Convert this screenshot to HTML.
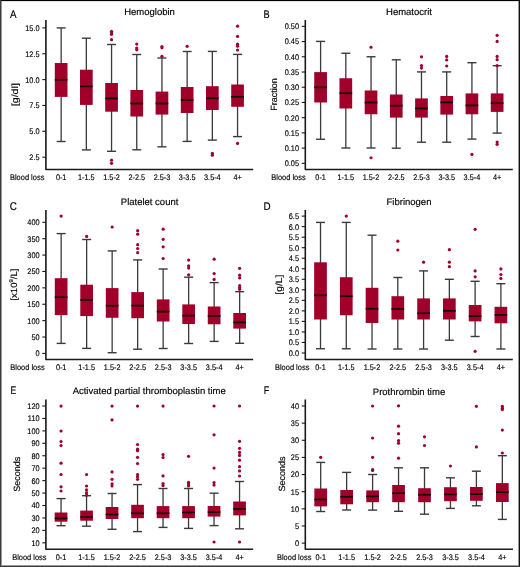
<!DOCTYPE html><html><head><meta charset="utf-8"><style>html,body{margin:0;padding:0;background:#fff;}body{width:520px;height:567px;overflow:hidden;position:relative;font-family:"Liberation Sans",sans-serif;}svg{position:absolute;left:0;top:0;will-change:transform;text-rendering:geometricPrecision;}.b{position:absolute;}</style></head><body>
<svg width="520" height="567" viewBox="0 0 520 567" style="font-family:'Liberation Sans',sans-serif">
<rect x="0" y="0" width="520" height="567" fill="#fff"/>
<g><line x1="42.3" y1="27.9" x2="45.9" y2="27.9" stroke="#1a1a1a" stroke-width="1.1"/><text transform="translate(39.6,30.8) scale(0.91,1)" font-size="8.1" text-anchor="end" fill="#000" stroke="#000" stroke-width="0.15">15.0</text><line x1="42.3" y1="53.75" x2="45.9" y2="53.75" stroke="#1a1a1a" stroke-width="1.1"/><text transform="translate(39.6,56.65) scale(0.91,1)" font-size="8.1" text-anchor="end" fill="#000" stroke="#000" stroke-width="0.15">12.5</text><line x1="42.3" y1="79.6" x2="45.9" y2="79.6" stroke="#1a1a1a" stroke-width="1.1"/><text transform="translate(39.6,82.5) scale(0.91,1)" font-size="8.1" text-anchor="end" fill="#000" stroke="#000" stroke-width="0.15">10.0</text><line x1="42.3" y1="105.45" x2="45.9" y2="105.45" stroke="#1a1a1a" stroke-width="1.1"/><text transform="translate(39.6,108.35) scale(0.91,1)" font-size="8.1" text-anchor="end" fill="#000" stroke="#000" stroke-width="0.15">7.5</text><line x1="42.3" y1="131.3" x2="45.9" y2="131.3" stroke="#1a1a1a" stroke-width="1.1"/><text transform="translate(39.6,134.2) scale(0.91,1)" font-size="8.1" text-anchor="end" fill="#000" stroke="#000" stroke-width="0.15">5.0</text><line x1="42.3" y1="157.15" x2="45.9" y2="157.15" stroke="#1a1a1a" stroke-width="1.1"/><text transform="translate(39.6,160.05) scale(0.91,1)" font-size="8.1" text-anchor="end" fill="#000" stroke="#000" stroke-width="0.15">2.5</text><line x1="61.15" y1="27.9" x2="61.15" y2="141.5" stroke="#3a3a3a" stroke-width="1.3"/><line x1="56.65" y1="27.9" x2="65.65" y2="27.9" stroke="#3a3a3a" stroke-width="1.4"/><line x1="56.65" y1="141.5" x2="65.65" y2="141.5" stroke="#3a3a3a" stroke-width="1.4"/><rect x="54.8" y="63" width="12.7" height="33.9" fill="#a0002a"/><line x1="54.8" y1="79.8" x2="67.5" y2="79.8" stroke="#1a0008" stroke-width="1.7"/><text transform="translate(61.15,180) scale(0.9,1)" font-size="8.1" text-anchor="middle" fill="#000" stroke="#000" stroke-width="0.15">0-1</text><line x1="86.35" y1="38.2" x2="86.35" y2="149.9" stroke="#3a3a3a" stroke-width="1.3"/><line x1="81.85" y1="38.2" x2="90.85" y2="38.2" stroke="#3a3a3a" stroke-width="1.4"/><line x1="81.85" y1="149.9" x2="90.85" y2="149.9" stroke="#3a3a3a" stroke-width="1.4"/><rect x="80" y="69.7" width="12.7" height="35.2" fill="#a0002a"/><line x1="80" y1="86.4" x2="92.7" y2="86.4" stroke="#1a0008" stroke-width="1.7"/><text transform="translate(86.35,180) scale(0.9,1)" font-size="8.1" text-anchor="middle" fill="#000" stroke="#000" stroke-width="0.15">1-1.5</text><line x1="111.55" y1="44.5" x2="111.55" y2="151.3" stroke="#3a3a3a" stroke-width="1.3"/><line x1="107.05" y1="44.5" x2="116.05" y2="44.5" stroke="#3a3a3a" stroke-width="1.4"/><line x1="107.05" y1="151.3" x2="116.05" y2="151.3" stroke="#3a3a3a" stroke-width="1.4"/><rect x="105.2" y="83" width="12.7" height="28.7" fill="#a0002a"/><line x1="105.2" y1="98.4" x2="117.9" y2="98.4" stroke="#1a0008" stroke-width="1.7"/><circle cx="111.55" cy="31.3" r="1.6" fill="#a0002a"/><circle cx="111.55" cy="32.8" r="1.6" fill="#a0002a"/><circle cx="111.55" cy="34.3" r="1.6" fill="#a0002a"/><circle cx="111.55" cy="39.7" r="1.6" fill="#a0002a"/><circle cx="111.55" cy="160.2" r="1.6" fill="#a0002a"/><circle cx="111.55" cy="163.3" r="1.6" fill="#a0002a"/><text transform="translate(111.55,180) scale(0.9,1)" font-size="8.1" text-anchor="middle" fill="#000" stroke="#000" stroke-width="0.15">1.5-2</text><line x1="136.75" y1="54.5" x2="136.75" y2="149.8" stroke="#3a3a3a" stroke-width="1.3"/><line x1="132.25" y1="54.5" x2="141.25" y2="54.5" stroke="#3a3a3a" stroke-width="1.4"/><line x1="132.25" y1="149.8" x2="141.25" y2="149.8" stroke="#3a3a3a" stroke-width="1.4"/><rect x="130.4" y="90" width="12.7" height="26.5" fill="#a0002a"/><line x1="130.4" y1="103.5" x2="143.1" y2="103.5" stroke="#1a0008" stroke-width="1.7"/><circle cx="136.75" cy="44.1" r="1.6" fill="#a0002a"/><circle cx="136.75" cy="48" r="1.6" fill="#a0002a"/><circle cx="136.75" cy="49.8" r="1.6" fill="#a0002a"/><text transform="translate(136.75,180) scale(0.9,1)" font-size="8.1" text-anchor="middle" fill="#000" stroke="#000" stroke-width="0.15">2-2.5</text><line x1="161.95" y1="58" x2="161.95" y2="146.8" stroke="#3a3a3a" stroke-width="1.3"/><line x1="157.45" y1="58" x2="166.45" y2="58" stroke="#3a3a3a" stroke-width="1.4"/><line x1="157.45" y1="146.8" x2="166.45" y2="146.8" stroke="#3a3a3a" stroke-width="1.4"/><rect x="155.6" y="91.6" width="12.7" height="23" fill="#a0002a"/><line x1="155.6" y1="103.5" x2="168.3" y2="103.5" stroke="#1a0008" stroke-width="1.7"/><circle cx="161.95" cy="46.5" r="1.6" fill="#a0002a"/><circle cx="161.95" cy="47.8" r="1.6" fill="#a0002a"/><circle cx="161.95" cy="56.3" r="1.6" fill="#a0002a"/><text transform="translate(161.95,180) scale(0.9,1)" font-size="8.1" text-anchor="middle" fill="#000" stroke="#000" stroke-width="0.15">2.5-3</text><line x1="187.15" y1="51.5" x2="187.15" y2="141.4" stroke="#3a3a3a" stroke-width="1.3"/><line x1="182.65" y1="51.5" x2="191.65" y2="51.5" stroke="#3a3a3a" stroke-width="1.4"/><line x1="182.65" y1="141.4" x2="191.65" y2="141.4" stroke="#3a3a3a" stroke-width="1.4"/><rect x="180.8" y="87" width="12.7" height="26" fill="#a0002a"/><line x1="180.8" y1="100" x2="193.5" y2="100" stroke="#1a0008" stroke-width="1.7"/><circle cx="187.15" cy="46.3" r="1.6" fill="#a0002a"/><text transform="translate(187.15,180) scale(0.9,1)" font-size="8.1" text-anchor="middle" fill="#000" stroke="#000" stroke-width="0.15">3-3.5</text><line x1="212.35" y1="51.4" x2="212.35" y2="140.1" stroke="#3a3a3a" stroke-width="1.3"/><line x1="207.85" y1="51.4" x2="216.85" y2="51.4" stroke="#3a3a3a" stroke-width="1.4"/><line x1="207.85" y1="140.1" x2="216.85" y2="140.1" stroke="#3a3a3a" stroke-width="1.4"/><rect x="206" y="86.2" width="12.7" height="23.8" fill="#a0002a"/><line x1="206" y1="98.3" x2="218.7" y2="98.3" stroke="#1a0008" stroke-width="1.7"/><circle cx="212.35" cy="153.3" r="1.6" fill="#a0002a"/><circle cx="212.35" cy="155.2" r="1.6" fill="#a0002a"/><text transform="translate(212.35,180) scale(0.9,1)" font-size="8.1" text-anchor="middle" fill="#000" stroke="#000" stroke-width="0.15">3.5-4</text><line x1="237.55" y1="54.4" x2="237.55" y2="136.6" stroke="#3a3a3a" stroke-width="1.3"/><line x1="233.05" y1="54.4" x2="242.05" y2="54.4" stroke="#3a3a3a" stroke-width="1.4"/><line x1="233.05" y1="136.6" x2="242.05" y2="136.6" stroke="#3a3a3a" stroke-width="1.4"/><rect x="231.2" y="84.5" width="12.7" height="22.3" fill="#a0002a"/><line x1="231.2" y1="96.8" x2="243.9" y2="96.8" stroke="#1a0008" stroke-width="1.7"/><circle cx="237.55" cy="26.2" r="1.6" fill="#a0002a"/><circle cx="237.55" cy="36.4" r="1.6" fill="#a0002a"/><circle cx="237.55" cy="44.2" r="1.6" fill="#a0002a"/><circle cx="237.55" cy="46.2" r="1.6" fill="#a0002a"/><circle cx="237.55" cy="50" r="1.6" fill="#a0002a"/><circle cx="237.55" cy="143.4" r="1.6" fill="#a0002a"/><text transform="translate(237.55,180) scale(0.9,1)" font-size="8.1" text-anchor="middle" fill="#000" stroke="#000" stroke-width="0.15">4+</text><path d="M45.9 20 V169.5 H253.2" fill="none" stroke="#1a1a1a" stroke-width="1.6" stroke-linejoin="round"/><text transform="translate(10,17.9) scale(0.88,1)" font-size="11.2" fill="#000" stroke="#000" stroke-width="0.15">A</text><text x="149.5" y="14.8" font-size="9.5" text-anchor="middle" fill="#000" stroke="#000" stroke-width="0.15">Hemoglobin</text><text transform="translate(17.9,94.7) rotate(-90) scale(1.19,1)" font-size="9.0" text-anchor="middle" fill="#000" stroke="#000" stroke-width="0.15">[g/dl]</text><text transform="translate(10,180) scale(0.92,1)" font-size="8.1" fill="#000" stroke="#000" stroke-width="0.15">Blood loss</text></g>
<g><line x1="301.7" y1="26.35" x2="305.3" y2="26.35" stroke="#1a1a1a" stroke-width="1.1"/><text transform="translate(299,29.25) scale(0.91,1)" font-size="8.1" text-anchor="end" fill="#000" stroke="#000" stroke-width="0.15">0.50</text><line x1="301.7" y1="41.57" x2="305.3" y2="41.57" stroke="#1a1a1a" stroke-width="1.1"/><text transform="translate(299,44.47) scale(0.91,1)" font-size="8.1" text-anchor="end" fill="#000" stroke="#000" stroke-width="0.15">0.45</text><line x1="301.7" y1="56.79" x2="305.3" y2="56.79" stroke="#1a1a1a" stroke-width="1.1"/><text transform="translate(299,59.69) scale(0.91,1)" font-size="8.1" text-anchor="end" fill="#000" stroke="#000" stroke-width="0.15">0.40</text><line x1="301.7" y1="72.01" x2="305.3" y2="72.01" stroke="#1a1a1a" stroke-width="1.1"/><text transform="translate(299,74.91) scale(0.91,1)" font-size="8.1" text-anchor="end" fill="#000" stroke="#000" stroke-width="0.15">0.35</text><line x1="301.7" y1="87.23" x2="305.3" y2="87.23" stroke="#1a1a1a" stroke-width="1.1"/><text transform="translate(299,90.13) scale(0.91,1)" font-size="8.1" text-anchor="end" fill="#000" stroke="#000" stroke-width="0.15">0.30</text><line x1="301.7" y1="102.45" x2="305.3" y2="102.45" stroke="#1a1a1a" stroke-width="1.1"/><text transform="translate(299,105.35) scale(0.91,1)" font-size="8.1" text-anchor="end" fill="#000" stroke="#000" stroke-width="0.15">0.25</text><line x1="301.7" y1="117.67" x2="305.3" y2="117.67" stroke="#1a1a1a" stroke-width="1.1"/><text transform="translate(299,120.57) scale(0.91,1)" font-size="8.1" text-anchor="end" fill="#000" stroke="#000" stroke-width="0.15">0.20</text><line x1="301.7" y1="132.89" x2="305.3" y2="132.89" stroke="#1a1a1a" stroke-width="1.1"/><text transform="translate(299,135.79) scale(0.91,1)" font-size="8.1" text-anchor="end" fill="#000" stroke="#000" stroke-width="0.15">0.15</text><line x1="301.7" y1="148.11" x2="305.3" y2="148.11" stroke="#1a1a1a" stroke-width="1.1"/><text transform="translate(299,151.01) scale(0.91,1)" font-size="8.1" text-anchor="end" fill="#000" stroke="#000" stroke-width="0.15">0.10</text><line x1="301.7" y1="163.33" x2="305.3" y2="163.33" stroke="#1a1a1a" stroke-width="1.1"/><text transform="translate(299,166.23) scale(0.91,1)" font-size="8.1" text-anchor="end" fill="#000" stroke="#000" stroke-width="0.15">0.05</text><line x1="320.6" y1="41.4" x2="320.6" y2="139.25" stroke="#3a3a3a" stroke-width="1.3"/><line x1="316.1" y1="41.4" x2="325.1" y2="41.4" stroke="#3a3a3a" stroke-width="1.4"/><line x1="316.1" y1="139.25" x2="325.1" y2="139.25" stroke="#3a3a3a" stroke-width="1.4"/><rect x="314.25" y="72.1" width="12.7" height="30.4" fill="#a0002a"/><line x1="314.25" y1="87.3" x2="326.95" y2="87.3" stroke="#1a0008" stroke-width="1.7"/><text transform="translate(320.6,180) scale(0.9,1)" font-size="8.1" text-anchor="middle" fill="#000" stroke="#000" stroke-width="0.15">0-1</text><line x1="345.82" y1="53.25" x2="345.82" y2="148" stroke="#3a3a3a" stroke-width="1.3"/><line x1="341.32" y1="53.25" x2="350.32" y2="53.25" stroke="#3a3a3a" stroke-width="1.4"/><line x1="341.32" y1="148" x2="350.32" y2="148" stroke="#3a3a3a" stroke-width="1.4"/><rect x="339.47" y="78.25" width="12.7" height="30.25" fill="#a0002a"/><line x1="339.47" y1="93.25" x2="352.17" y2="93.25" stroke="#1a0008" stroke-width="1.7"/><text transform="translate(345.82,180) scale(0.9,1)" font-size="8.1" text-anchor="middle" fill="#000" stroke="#000" stroke-width="0.15">1-1.5</text><line x1="371.04" y1="56.75" x2="371.04" y2="148" stroke="#3a3a3a" stroke-width="1.3"/><line x1="366.54" y1="56.75" x2="375.54" y2="56.75" stroke="#3a3a3a" stroke-width="1.4"/><line x1="366.54" y1="148" x2="375.54" y2="148" stroke="#3a3a3a" stroke-width="1.4"/><rect x="364.69" y="90.5" width="12.7" height="23.75" fill="#a0002a"/><line x1="364.69" y1="102.5" x2="377.39" y2="102.5" stroke="#1a0008" stroke-width="1.7"/><circle cx="371.04" cy="47.25" r="1.6" fill="#a0002a"/><circle cx="371.04" cy="157.75" r="1.6" fill="#a0002a"/><text transform="translate(371.04,180) scale(0.9,1)" font-size="8.1" text-anchor="middle" fill="#000" stroke="#000" stroke-width="0.15">1.5-2</text><line x1="396.26" y1="59.8" x2="396.26" y2="148.2" stroke="#3a3a3a" stroke-width="1.3"/><line x1="391.76" y1="59.8" x2="400.76" y2="59.8" stroke="#3a3a3a" stroke-width="1.4"/><line x1="391.76" y1="148.2" x2="400.76" y2="148.2" stroke="#3a3a3a" stroke-width="1.4"/><rect x="389.91" y="94.5" width="12.7" height="23.1" fill="#a0002a"/><line x1="389.91" y1="105.7" x2="402.61" y2="105.7" stroke="#1a0008" stroke-width="1.7"/><text transform="translate(396.26,180) scale(0.9,1)" font-size="8.1" text-anchor="middle" fill="#000" stroke="#000" stroke-width="0.15">2-2.5</text><line x1="421.48" y1="71.9" x2="421.48" y2="142.2" stroke="#3a3a3a" stroke-width="1.3"/><line x1="416.98" y1="71.9" x2="425.98" y2="71.9" stroke="#3a3a3a" stroke-width="1.4"/><line x1="416.98" y1="142.2" x2="425.98" y2="142.2" stroke="#3a3a3a" stroke-width="1.4"/><rect x="415.13" y="98.4" width="12.7" height="19.2" fill="#a0002a"/><line x1="415.13" y1="108.5" x2="427.83" y2="108.5" stroke="#1a0008" stroke-width="1.7"/><circle cx="421.48" cy="56.8" r="1.6" fill="#a0002a"/><circle cx="421.48" cy="65.6" r="1.6" fill="#a0002a"/><circle cx="421.48" cy="68.1" r="1.6" fill="#a0002a"/><text transform="translate(421.48,180) scale(0.9,1)" font-size="8.1" text-anchor="middle" fill="#000" stroke="#000" stroke-width="0.15">2.5-3</text><line x1="446.7" y1="71.9" x2="446.7" y2="142.2" stroke="#3a3a3a" stroke-width="1.3"/><line x1="442.2" y1="71.9" x2="451.2" y2="71.9" stroke="#3a3a3a" stroke-width="1.4"/><line x1="442.2" y1="142.2" x2="451.2" y2="142.2" stroke="#3a3a3a" stroke-width="1.4"/><rect x="440.35" y="96" width="12.7" height="18.6" fill="#a0002a"/><line x1="440.35" y1="102.4" x2="453.05" y2="102.4" stroke="#1a0008" stroke-width="1.7"/><circle cx="446.7" cy="56.4" r="1.6" fill="#a0002a"/><circle cx="446.7" cy="59.9" r="1.6" fill="#a0002a"/><circle cx="446.7" cy="66" r="1.6" fill="#a0002a"/><text transform="translate(446.7,180) scale(0.9,1)" font-size="8.1" text-anchor="middle" fill="#000" stroke="#000" stroke-width="0.15">3-3.5</text><line x1="471.92" y1="62.7" x2="471.92" y2="139.1" stroke="#3a3a3a" stroke-width="1.3"/><line x1="467.42" y1="62.7" x2="476.42" y2="62.7" stroke="#3a3a3a" stroke-width="1.4"/><line x1="467.42" y1="139.1" x2="476.42" y2="139.1" stroke="#3a3a3a" stroke-width="1.4"/><rect x="465.57" y="93.4" width="12.7" height="20.9" fill="#a0002a"/><line x1="465.57" y1="105.4" x2="478.27" y2="105.4" stroke="#1a0008" stroke-width="1.7"/><circle cx="471.92" cy="154.4" r="1.6" fill="#a0002a"/><text transform="translate(471.92,180) scale(0.9,1)" font-size="8.1" text-anchor="middle" fill="#000" stroke="#000" stroke-width="0.15">3.5-4</text><line x1="497.14" y1="65.7" x2="497.14" y2="133.1" stroke="#3a3a3a" stroke-width="1.3"/><line x1="492.64" y1="65.7" x2="501.64" y2="65.7" stroke="#3a3a3a" stroke-width="1.4"/><line x1="492.64" y1="133.1" x2="501.64" y2="133.1" stroke="#3a3a3a" stroke-width="1.4"/><rect x="490.79" y="93.4" width="12.7" height="18.5" fill="#a0002a"/><line x1="490.79" y1="103.2" x2="503.49" y2="103.2" stroke="#1a0008" stroke-width="1.7"/><circle cx="497.14" cy="35.3" r="1.6" fill="#a0002a"/><circle cx="497.14" cy="41.4" r="1.6" fill="#a0002a"/><circle cx="497.14" cy="56.4" r="1.6" fill="#a0002a"/><circle cx="497.14" cy="59.7" r="1.6" fill="#a0002a"/><circle cx="497.14" cy="65.7" r="1.6" fill="#a0002a"/><circle cx="497.14" cy="142" r="1.6" fill="#a0002a"/><circle cx="497.14" cy="144.3" r="1.6" fill="#a0002a"/><text transform="translate(497.14,180) scale(0.9,1)" font-size="8.1" text-anchor="middle" fill="#000" stroke="#000" stroke-width="0.15">4+</text><path d="M305.3 20 V169.5 H512.8" fill="none" stroke="#1a1a1a" stroke-width="1.6" stroke-linejoin="round"/><text transform="translate(263.6,17.9) scale(0.82,1)" font-size="11.2" fill="#000" stroke="#000" stroke-width="0.15">B</text><text x="409" y="14.8" font-size="9.5" text-anchor="middle" fill="#000" stroke="#000" stroke-width="0.15">Hematocrit</text><text transform="translate(277.4,94.6) rotate(-90) scale(1.0,1)" font-size="9.0" text-anchor="middle" fill="#000" stroke="#000" stroke-width="0.15">Fraction</text><text transform="translate(271.3,180) scale(0.92,1)" font-size="8.1" fill="#000" stroke="#000" stroke-width="0.15">Blood loss</text></g>
<g><line x1="42.3" y1="222.3" x2="45.9" y2="222.3" stroke="#1a1a1a" stroke-width="1.1"/><text transform="translate(39.6,225.2) scale(0.91,1)" font-size="8.1" text-anchor="end" fill="#000" stroke="#000" stroke-width="0.15">400</text><line x1="42.3" y1="238.69" x2="45.9" y2="238.69" stroke="#1a1a1a" stroke-width="1.1"/><text transform="translate(39.6,241.59) scale(0.91,1)" font-size="8.1" text-anchor="end" fill="#000" stroke="#000" stroke-width="0.15">350</text><line x1="42.3" y1="255.08" x2="45.9" y2="255.08" stroke="#1a1a1a" stroke-width="1.1"/><text transform="translate(39.6,257.98) scale(0.91,1)" font-size="8.1" text-anchor="end" fill="#000" stroke="#000" stroke-width="0.15">300</text><line x1="42.3" y1="271.47" x2="45.9" y2="271.47" stroke="#1a1a1a" stroke-width="1.1"/><text transform="translate(39.6,274.37) scale(0.91,1)" font-size="8.1" text-anchor="end" fill="#000" stroke="#000" stroke-width="0.15">250</text><line x1="42.3" y1="287.86" x2="45.9" y2="287.86" stroke="#1a1a1a" stroke-width="1.1"/><text transform="translate(39.6,290.76) scale(0.91,1)" font-size="8.1" text-anchor="end" fill="#000" stroke="#000" stroke-width="0.15">200</text><line x1="42.3" y1="304.25" x2="45.9" y2="304.25" stroke="#1a1a1a" stroke-width="1.1"/><text transform="translate(39.6,307.15) scale(0.91,1)" font-size="8.1" text-anchor="end" fill="#000" stroke="#000" stroke-width="0.15">150</text><line x1="42.3" y1="320.64" x2="45.9" y2="320.64" stroke="#1a1a1a" stroke-width="1.1"/><text transform="translate(39.6,323.54) scale(0.91,1)" font-size="8.1" text-anchor="end" fill="#000" stroke="#000" stroke-width="0.15">100</text><line x1="42.3" y1="337.03" x2="45.9" y2="337.03" stroke="#1a1a1a" stroke-width="1.1"/><text transform="translate(39.6,339.93) scale(0.91,1)" font-size="8.1" text-anchor="end" fill="#000" stroke="#000" stroke-width="0.15">50</text><line x1="42.3" y1="353.42" x2="45.9" y2="353.42" stroke="#1a1a1a" stroke-width="1.1"/><text transform="translate(39.6,356.32) scale(0.91,1)" font-size="8.1" text-anchor="end" fill="#000" stroke="#000" stroke-width="0.15">0</text><line x1="61.15" y1="233.6" x2="61.15" y2="343.4" stroke="#3a3a3a" stroke-width="1.3"/><line x1="56.65" y1="233.6" x2="65.65" y2="233.6" stroke="#3a3a3a" stroke-width="1.4"/><line x1="56.65" y1="343.4" x2="65.65" y2="343.4" stroke="#3a3a3a" stroke-width="1.4"/><rect x="54.8" y="278.2" width="12.7" height="36.9" fill="#a0002a"/><line x1="54.8" y1="297.2" x2="67.5" y2="297.2" stroke="#1a0008" stroke-width="1.7"/><circle cx="61.15" cy="216.1" r="1.6" fill="#a0002a"/><text transform="translate(61.15,369.8) scale(0.9,1)" font-size="8.1" text-anchor="middle" fill="#000" stroke="#000" stroke-width="0.15">0-1</text><line x1="86.65" y1="239.5" x2="86.65" y2="348.4" stroke="#3a3a3a" stroke-width="1.3"/><line x1="82.15" y1="239.5" x2="91.15" y2="239.5" stroke="#3a3a3a" stroke-width="1.4"/><line x1="82.15" y1="348.4" x2="91.15" y2="348.4" stroke="#3a3a3a" stroke-width="1.4"/><rect x="80.3" y="284.7" width="12.7" height="31.4" fill="#a0002a"/><line x1="80.3" y1="299.9" x2="93" y2="299.9" stroke="#1a0008" stroke-width="1.7"/><circle cx="86.65" cy="236.4" r="1.6" fill="#a0002a"/><text transform="translate(86.65,369.8) scale(0.9,1)" font-size="8.1" text-anchor="middle" fill="#000" stroke="#000" stroke-width="0.15">1-1.5</text><line x1="112.15" y1="250.9" x2="112.15" y2="352.7" stroke="#3a3a3a" stroke-width="1.3"/><line x1="107.65" y1="250.9" x2="116.65" y2="250.9" stroke="#3a3a3a" stroke-width="1.4"/><line x1="107.65" y1="352.7" x2="116.65" y2="352.7" stroke="#3a3a3a" stroke-width="1.4"/><rect x="105.8" y="288.1" width="12.7" height="29.7" fill="#a0002a"/><line x1="105.8" y1="305.7" x2="118.5" y2="305.7" stroke="#1a0008" stroke-width="1.7"/><circle cx="112.15" cy="227" r="1.6" fill="#a0002a"/><text transform="translate(112.15,369.8) scale(0.9,1)" font-size="8.1" text-anchor="middle" fill="#000" stroke="#000" stroke-width="0.15">1.5-2</text><line x1="137.65" y1="259.9" x2="137.65" y2="349.2" stroke="#3a3a3a" stroke-width="1.3"/><line x1="133.15" y1="259.9" x2="142.15" y2="259.9" stroke="#3a3a3a" stroke-width="1.4"/><line x1="133.15" y1="349.2" x2="142.15" y2="349.2" stroke="#3a3a3a" stroke-width="1.4"/><rect x="131.3" y="292.1" width="12.7" height="26.1" fill="#a0002a"/><line x1="131.3" y1="305.6" x2="144" y2="305.6" stroke="#1a0008" stroke-width="1.7"/><circle cx="137.65" cy="230.7" r="1.6" fill="#a0002a"/><circle cx="137.65" cy="234.2" r="1.6" fill="#a0002a"/><circle cx="137.65" cy="244.7" r="1.6" fill="#a0002a"/><circle cx="137.65" cy="248.5" r="1.6" fill="#a0002a"/><circle cx="137.65" cy="252.7" r="1.6" fill="#a0002a"/><text transform="translate(137.65,369.8) scale(0.9,1)" font-size="8.1" text-anchor="middle" fill="#000" stroke="#000" stroke-width="0.15">2-2.5</text><line x1="163.15" y1="269" x2="163.15" y2="348.5" stroke="#3a3a3a" stroke-width="1.3"/><line x1="158.65" y1="269" x2="167.65" y2="269" stroke="#3a3a3a" stroke-width="1.4"/><line x1="158.65" y1="348.5" x2="167.65" y2="348.5" stroke="#3a3a3a" stroke-width="1.4"/><rect x="156.8" y="299.4" width="12.7" height="22.1" fill="#a0002a"/><line x1="156.8" y1="311.6" x2="169.5" y2="311.6" stroke="#1a0008" stroke-width="1.7"/><circle cx="163.15" cy="229.2" r="1.6" fill="#a0002a"/><circle cx="163.15" cy="239.3" r="1.6" fill="#a0002a"/><circle cx="163.15" cy="246.8" r="1.6" fill="#a0002a"/><circle cx="163.15" cy="258.5" r="1.6" fill="#a0002a"/><text transform="translate(163.15,369.8) scale(0.9,1)" font-size="8.1" text-anchor="middle" fill="#000" stroke="#000" stroke-width="0.15">2.5-3</text><line x1="188.65" y1="277.2" x2="188.65" y2="343.5" stroke="#3a3a3a" stroke-width="1.3"/><line x1="184.15" y1="277.2" x2="193.15" y2="277.2" stroke="#3a3a3a" stroke-width="1.4"/><line x1="184.15" y1="343.5" x2="193.15" y2="343.5" stroke="#3a3a3a" stroke-width="1.4"/><rect x="182.3" y="304.4" width="12.7" height="19.6" fill="#a0002a"/><line x1="182.3" y1="315.6" x2="195" y2="315.6" stroke="#1a0008" stroke-width="1.7"/><circle cx="188.65" cy="260.1" r="1.6" fill="#a0002a"/><circle cx="188.65" cy="265.8" r="1.6" fill="#a0002a"/><circle cx="188.65" cy="268.1" r="1.6" fill="#a0002a"/><circle cx="188.65" cy="274.8" r="1.6" fill="#a0002a"/><text transform="translate(188.65,369.8) scale(0.9,1)" font-size="8.1" text-anchor="middle" fill="#000" stroke="#000" stroke-width="0.15">3-3.5</text><line x1="214.15" y1="282.6" x2="214.15" y2="341.4" stroke="#3a3a3a" stroke-width="1.3"/><line x1="209.65" y1="282.6" x2="218.65" y2="282.6" stroke="#3a3a3a" stroke-width="1.4"/><line x1="209.65" y1="341.4" x2="218.65" y2="341.4" stroke="#3a3a3a" stroke-width="1.4"/><rect x="207.8" y="306.5" width="12.7" height="17.8" fill="#a0002a"/><line x1="207.8" y1="316" x2="220.5" y2="316" stroke="#1a0008" stroke-width="1.7"/><circle cx="214.15" cy="259.2" r="1.6" fill="#a0002a"/><circle cx="214.15" cy="273.6" r="1.6" fill="#a0002a"/><circle cx="214.15" cy="279.4" r="1.6" fill="#a0002a"/><text transform="translate(214.15,369.8) scale(0.9,1)" font-size="8.1" text-anchor="middle" fill="#000" stroke="#000" stroke-width="0.15">3.5-4</text><line x1="239.65" y1="291.7" x2="239.65" y2="343.3" stroke="#3a3a3a" stroke-width="1.3"/><line x1="235.15" y1="291.7" x2="244.15" y2="291.7" stroke="#3a3a3a" stroke-width="1.4"/><line x1="235.15" y1="343.3" x2="244.15" y2="343.3" stroke="#3a3a3a" stroke-width="1.4"/><rect x="233.3" y="313" width="12.7" height="15.6" fill="#a0002a"/><line x1="233.3" y1="322.4" x2="246" y2="322.4" stroke="#1a0008" stroke-width="1.7"/><circle cx="239.65" cy="268.3" r="1.6" fill="#a0002a"/><circle cx="239.65" cy="275.2" r="1.6" fill="#a0002a"/><circle cx="239.65" cy="277.9" r="1.6" fill="#a0002a"/><circle cx="239.65" cy="285.6" r="1.6" fill="#a0002a"/><circle cx="239.65" cy="287.6" r="1.6" fill="#a0002a"/><circle cx="239.65" cy="289.3" r="1.6" fill="#a0002a"/><text transform="translate(239.65,369.8) scale(0.9,1)" font-size="8.1" text-anchor="middle" fill="#000" stroke="#000" stroke-width="0.15">4+</text><path d="M45.9 210 V359.5 H253.2" fill="none" stroke="#1a1a1a" stroke-width="1.6" stroke-linejoin="round"/><text transform="translate(9.8,210.2) scale(0.88,1)" font-size="11.2" fill="#000" stroke="#000" stroke-width="0.15">C</text><text x="149.6" y="204.6" font-size="9.5" text-anchor="middle" fill="#000" stroke="#000" stroke-width="0.15">Platelet count</text><text transform="translate(17.4,284.6) rotate(-90) scale(1.06,1)" font-size="9.0" text-anchor="middle" fill="#000" stroke="#000" stroke-width="0.15">[x10<tspan font-size="5.6" dy="-4.6">9</tspan><tspan dy="4.6">/L]</tspan></text><text transform="translate(10.3,369.8) scale(0.92,1)" font-size="8.1" fill="#000" stroke="#000" stroke-width="0.15">Blood loss</text></g>
<g><line x1="301.7" y1="216.1" x2="305.3" y2="216.1" stroke="#1a1a1a" stroke-width="1.1"/><text transform="translate(299,219) scale(0.91,1)" font-size="8.1" text-anchor="end" fill="#000" stroke="#000" stroke-width="0.15">6.5</text><line x1="301.7" y1="226.63" x2="305.3" y2="226.63" stroke="#1a1a1a" stroke-width="1.1"/><text transform="translate(299,229.53) scale(0.91,1)" font-size="8.1" text-anchor="end" fill="#000" stroke="#000" stroke-width="0.15">6.0</text><line x1="301.7" y1="237.16" x2="305.3" y2="237.16" stroke="#1a1a1a" stroke-width="1.1"/><text transform="translate(299,240.06) scale(0.91,1)" font-size="8.1" text-anchor="end" fill="#000" stroke="#000" stroke-width="0.15">5.5</text><line x1="301.7" y1="247.69" x2="305.3" y2="247.69" stroke="#1a1a1a" stroke-width="1.1"/><text transform="translate(299,250.59) scale(0.91,1)" font-size="8.1" text-anchor="end" fill="#000" stroke="#000" stroke-width="0.15">5.0</text><line x1="301.7" y1="258.22" x2="305.3" y2="258.22" stroke="#1a1a1a" stroke-width="1.1"/><text transform="translate(299,261.12) scale(0.91,1)" font-size="8.1" text-anchor="end" fill="#000" stroke="#000" stroke-width="0.15">4.5</text><line x1="301.7" y1="268.75" x2="305.3" y2="268.75" stroke="#1a1a1a" stroke-width="1.1"/><text transform="translate(299,271.65) scale(0.91,1)" font-size="8.1" text-anchor="end" fill="#000" stroke="#000" stroke-width="0.15">4.0</text><line x1="301.7" y1="279.28" x2="305.3" y2="279.28" stroke="#1a1a1a" stroke-width="1.1"/><text transform="translate(299,282.18) scale(0.91,1)" font-size="8.1" text-anchor="end" fill="#000" stroke="#000" stroke-width="0.15">3.5</text><line x1="301.7" y1="289.81" x2="305.3" y2="289.81" stroke="#1a1a1a" stroke-width="1.1"/><text transform="translate(299,292.71) scale(0.91,1)" font-size="8.1" text-anchor="end" fill="#000" stroke="#000" stroke-width="0.15">3.0</text><line x1="301.7" y1="300.34" x2="305.3" y2="300.34" stroke="#1a1a1a" stroke-width="1.1"/><text transform="translate(299,303.24) scale(0.91,1)" font-size="8.1" text-anchor="end" fill="#000" stroke="#000" stroke-width="0.15">2.5</text><line x1="301.7" y1="310.87" x2="305.3" y2="310.87" stroke="#1a1a1a" stroke-width="1.1"/><text transform="translate(299,313.77) scale(0.91,1)" font-size="8.1" text-anchor="end" fill="#000" stroke="#000" stroke-width="0.15">2.0</text><line x1="301.7" y1="321.4" x2="305.3" y2="321.4" stroke="#1a1a1a" stroke-width="1.1"/><text transform="translate(299,324.3) scale(0.91,1)" font-size="8.1" text-anchor="end" fill="#000" stroke="#000" stroke-width="0.15">1.5</text><line x1="301.7" y1="331.93" x2="305.3" y2="331.93" stroke="#1a1a1a" stroke-width="1.1"/><text transform="translate(299,334.83) scale(0.91,1)" font-size="8.1" text-anchor="end" fill="#000" stroke="#000" stroke-width="0.15">1.0</text><line x1="301.7" y1="342.46" x2="305.3" y2="342.46" stroke="#1a1a1a" stroke-width="1.1"/><text transform="translate(299,345.36) scale(0.91,1)" font-size="8.1" text-anchor="end" fill="#000" stroke="#000" stroke-width="0.15">0.5</text><line x1="301.7" y1="352.99" x2="305.3" y2="352.99" stroke="#1a1a1a" stroke-width="1.1"/><text transform="translate(299,355.89) scale(0.91,1)" font-size="8.1" text-anchor="end" fill="#000" stroke="#000" stroke-width="0.15">0.0</text><line x1="320.5" y1="222.4" x2="320.5" y2="348.75" stroke="#3a3a3a" stroke-width="1.3"/><line x1="316" y1="222.4" x2="325" y2="222.4" stroke="#3a3a3a" stroke-width="1.4"/><line x1="316" y1="348.75" x2="325" y2="348.75" stroke="#3a3a3a" stroke-width="1.4"/><rect x="314.15" y="262.3" width="12.7" height="57.2" fill="#a0002a"/><line x1="314.15" y1="295.25" x2="326.85" y2="295.25" stroke="#1a0008" stroke-width="1.7"/><text transform="translate(320.5,369.8) scale(0.9,1)" font-size="8.1" text-anchor="middle" fill="#000" stroke="#000" stroke-width="0.15">0-1</text><line x1="346.27" y1="222.4" x2="346.27" y2="348.75" stroke="#3a3a3a" stroke-width="1.3"/><line x1="341.77" y1="222.4" x2="350.77" y2="222.4" stroke="#3a3a3a" stroke-width="1.4"/><line x1="341.77" y1="348.75" x2="350.77" y2="348.75" stroke="#3a3a3a" stroke-width="1.4"/><rect x="339.92" y="277.2" width="12.7" height="38.05" fill="#a0002a"/><line x1="339.92" y1="296.25" x2="352.62" y2="296.25" stroke="#1a0008" stroke-width="1.7"/><circle cx="346.27" cy="216.1" r="1.6" fill="#a0002a"/><text transform="translate(346.27,369.8) scale(0.9,1)" font-size="8.1" text-anchor="middle" fill="#000" stroke="#000" stroke-width="0.15">1-1.5</text><line x1="372.04" y1="235.2" x2="372.04" y2="349" stroke="#3a3a3a" stroke-width="1.3"/><line x1="367.54" y1="235.2" x2="376.54" y2="235.2" stroke="#3a3a3a" stroke-width="1.4"/><line x1="367.54" y1="349" x2="376.54" y2="349" stroke="#3a3a3a" stroke-width="1.4"/><rect x="365.69" y="287.8" width="12.7" height="35.2" fill="#a0002a"/><line x1="365.69" y1="308.75" x2="378.39" y2="308.75" stroke="#1a0008" stroke-width="1.7"/><text transform="translate(372.04,369.8) scale(0.9,1)" font-size="8.1" text-anchor="middle" fill="#000" stroke="#000" stroke-width="0.15">1.5-2</text><line x1="397.81" y1="277.5" x2="397.81" y2="349" stroke="#3a3a3a" stroke-width="1.3"/><line x1="393.31" y1="277.5" x2="402.31" y2="277.5" stroke="#3a3a3a" stroke-width="1.4"/><line x1="393.31" y1="349" x2="402.31" y2="349" stroke="#3a3a3a" stroke-width="1.4"/><rect x="391.46" y="296.2" width="12.7" height="23.3" fill="#a0002a"/><line x1="391.46" y1="309" x2="404.16" y2="309" stroke="#1a0008" stroke-width="1.7"/><circle cx="397.81" cy="241.2" r="1.6" fill="#a0002a"/><circle cx="397.81" cy="250" r="1.6" fill="#a0002a"/><text transform="translate(397.81,369.8) scale(0.9,1)" font-size="8.1" text-anchor="middle" fill="#000" stroke="#000" stroke-width="0.15">2-2.5</text><line x1="423.58" y1="270.9" x2="423.58" y2="349" stroke="#3a3a3a" stroke-width="1.3"/><line x1="419.08" y1="270.9" x2="428.08" y2="270.9" stroke="#3a3a3a" stroke-width="1.4"/><line x1="419.08" y1="349" x2="428.08" y2="349" stroke="#3a3a3a" stroke-width="1.4"/><rect x="417.23" y="298.4" width="12.7" height="21.1" fill="#a0002a"/><line x1="417.23" y1="313.3" x2="429.93" y2="313.3" stroke="#1a0008" stroke-width="1.7"/><circle cx="423.58" cy="262.2" r="1.6" fill="#a0002a"/><text transform="translate(423.58,369.8) scale(0.9,1)" font-size="8.1" text-anchor="middle" fill="#000" stroke="#000" stroke-width="0.15">2.5-3</text><line x1="449.35" y1="279.3" x2="449.35" y2="340.2" stroke="#3a3a3a" stroke-width="1.3"/><line x1="444.85" y1="279.3" x2="453.85" y2="279.3" stroke="#3a3a3a" stroke-width="1.4"/><line x1="444.85" y1="340.2" x2="453.85" y2="340.2" stroke="#3a3a3a" stroke-width="1.4"/><rect x="443" y="298.4" width="12.7" height="21.1" fill="#a0002a"/><line x1="443" y1="310.8" x2="455.7" y2="310.8" stroke="#1a0008" stroke-width="1.7"/><circle cx="449.35" cy="249.7" r="1.6" fill="#a0002a"/><circle cx="449.35" cy="262.2" r="1.6" fill="#a0002a"/><circle cx="449.35" cy="266.7" r="1.6" fill="#a0002a"/><text transform="translate(449.35,369.8) scale(0.9,1)" font-size="8.1" text-anchor="middle" fill="#000" stroke="#000" stroke-width="0.15">3-3.5</text><line x1="475.12" y1="281.3" x2="475.12" y2="336.5" stroke="#3a3a3a" stroke-width="1.3"/><line x1="470.62" y1="281.3" x2="479.62" y2="281.3" stroke="#3a3a3a" stroke-width="1.4"/><line x1="470.62" y1="336.5" x2="479.62" y2="336.5" stroke="#3a3a3a" stroke-width="1.4"/><rect x="468.77" y="305" width="12.7" height="16.4" fill="#a0002a"/><line x1="468.77" y1="316.2" x2="481.47" y2="316.2" stroke="#1a0008" stroke-width="1.7"/><circle cx="475.12" cy="229.3" r="1.6" fill="#a0002a"/><circle cx="475.12" cy="270.9" r="1.6" fill="#a0002a"/><circle cx="475.12" cy="276.8" r="1.6" fill="#a0002a"/><circle cx="475.12" cy="351.3" r="1.6" fill="#a0002a"/><text transform="translate(475.12,369.8) scale(0.9,1)" font-size="8.1" text-anchor="middle" fill="#000" stroke="#000" stroke-width="0.15">3.5-4</text><line x1="500.89" y1="283.7" x2="500.89" y2="349" stroke="#3a3a3a" stroke-width="1.3"/><line x1="496.39" y1="283.7" x2="505.39" y2="283.7" stroke="#3a3a3a" stroke-width="1.4"/><line x1="496.39" y1="349" x2="505.39" y2="349" stroke="#3a3a3a" stroke-width="1.4"/><rect x="494.54" y="306.8" width="12.7" height="16.5" fill="#a0002a"/><line x1="494.54" y1="314.9" x2="507.24" y2="314.9" stroke="#1a0008" stroke-width="1.7"/><circle cx="500.89" cy="268.9" r="1.6" fill="#a0002a"/><circle cx="500.89" cy="274.5" r="1.6" fill="#a0002a"/><circle cx="500.89" cy="278.4" r="1.6" fill="#a0002a"/><text transform="translate(500.89,369.8) scale(0.9,1)" font-size="8.1" text-anchor="middle" fill="#000" stroke="#000" stroke-width="0.15">4+</text><path d="M305.3 210 V359.5 H512.8" fill="none" stroke="#1a1a1a" stroke-width="1.6" stroke-linejoin="round"/><text transform="translate(263.4,209.8) scale(0.88,1)" font-size="11.2" fill="#000" stroke="#000" stroke-width="0.15">D</text><text x="409" y="204.7" font-size="9.5" text-anchor="middle" fill="#000" stroke="#000" stroke-width="0.15">Fibrinogen</text><text transform="translate(281.6,284.7) rotate(-90) scale(1.14,1)" font-size="9.0" text-anchor="middle" fill="#000" stroke="#000" stroke-width="0.15">[g/L]</text><text transform="translate(275,369.8) scale(0.92,1)" font-size="8.1" fill="#000" stroke="#000" stroke-width="0.15">Blood loss</text></g>
<g><line x1="42.3" y1="406" x2="45.9" y2="406" stroke="#1a1a1a" stroke-width="1.1"/><text transform="translate(39.6,408.9) scale(0.91,1)" font-size="8.1" text-anchor="end" fill="#000" stroke="#000" stroke-width="0.15">120</text><line x1="42.3" y1="418.44" x2="45.9" y2="418.44" stroke="#1a1a1a" stroke-width="1.1"/><text transform="translate(39.6,421.34) scale(0.91,1)" font-size="8.1" text-anchor="end" fill="#000" stroke="#000" stroke-width="0.15">110</text><line x1="42.3" y1="430.88" x2="45.9" y2="430.88" stroke="#1a1a1a" stroke-width="1.1"/><text transform="translate(39.6,433.78) scale(0.91,1)" font-size="8.1" text-anchor="end" fill="#000" stroke="#000" stroke-width="0.15">100</text><line x1="42.3" y1="443.32" x2="45.9" y2="443.32" stroke="#1a1a1a" stroke-width="1.1"/><text transform="translate(39.6,446.22) scale(0.91,1)" font-size="8.1" text-anchor="end" fill="#000" stroke="#000" stroke-width="0.15">90</text><line x1="42.3" y1="455.76" x2="45.9" y2="455.76" stroke="#1a1a1a" stroke-width="1.1"/><text transform="translate(39.6,458.66) scale(0.91,1)" font-size="8.1" text-anchor="end" fill="#000" stroke="#000" stroke-width="0.15">80</text><line x1="42.3" y1="468.2" x2="45.9" y2="468.2" stroke="#1a1a1a" stroke-width="1.1"/><text transform="translate(39.6,471.1) scale(0.91,1)" font-size="8.1" text-anchor="end" fill="#000" stroke="#000" stroke-width="0.15">70</text><line x1="42.3" y1="480.64" x2="45.9" y2="480.64" stroke="#1a1a1a" stroke-width="1.1"/><text transform="translate(39.6,483.54) scale(0.91,1)" font-size="8.1" text-anchor="end" fill="#000" stroke="#000" stroke-width="0.15">60</text><line x1="42.3" y1="493.08" x2="45.9" y2="493.08" stroke="#1a1a1a" stroke-width="1.1"/><text transform="translate(39.6,495.98) scale(0.91,1)" font-size="8.1" text-anchor="end" fill="#000" stroke="#000" stroke-width="0.15">50</text><line x1="42.3" y1="505.52" x2="45.9" y2="505.52" stroke="#1a1a1a" stroke-width="1.1"/><text transform="translate(39.6,508.42) scale(0.91,1)" font-size="8.1" text-anchor="end" fill="#000" stroke="#000" stroke-width="0.15">40</text><line x1="42.3" y1="517.96" x2="45.9" y2="517.96" stroke="#1a1a1a" stroke-width="1.1"/><text transform="translate(39.6,520.86) scale(0.91,1)" font-size="8.1" text-anchor="end" fill="#000" stroke="#000" stroke-width="0.15">30</text><line x1="42.3" y1="530.4" x2="45.9" y2="530.4" stroke="#1a1a1a" stroke-width="1.1"/><text transform="translate(39.6,533.3) scale(0.91,1)" font-size="8.1" text-anchor="end" fill="#000" stroke="#000" stroke-width="0.15">20</text><line x1="42.3" y1="542.84" x2="45.9" y2="542.84" stroke="#1a1a1a" stroke-width="1.1"/><text transform="translate(39.6,545.74) scale(0.91,1)" font-size="8.1" text-anchor="end" fill="#000" stroke="#000" stroke-width="0.15">10</text><line x1="61.05" y1="498.6" x2="61.05" y2="525.7" stroke="#3a3a3a" stroke-width="1.3"/><line x1="56.55" y1="498.6" x2="65.55" y2="498.6" stroke="#3a3a3a" stroke-width="1.4"/><line x1="56.55" y1="525.7" x2="65.55" y2="525.7" stroke="#3a3a3a" stroke-width="1.4"/><rect x="54.7" y="512.5" width="12.7" height="9.2" fill="#a0002a"/><line x1="54.7" y1="518.4" x2="67.4" y2="518.4" stroke="#1a0008" stroke-width="1.7"/><circle cx="61.05" cy="406.1" r="1.6" fill="#a0002a"/><circle cx="61.05" cy="431" r="1.6" fill="#a0002a"/><circle cx="61.05" cy="441.5" r="1.6" fill="#a0002a"/><circle cx="61.05" cy="445.5" r="1.6" fill="#a0002a"/><circle cx="61.05" cy="463.2" r="1.6" fill="#a0002a"/><circle cx="61.05" cy="474.5" r="1.6" fill="#a0002a"/><circle cx="61.05" cy="486.8" r="1.6" fill="#a0002a"/><circle cx="61.05" cy="491" r="1.6" fill="#a0002a"/><text transform="translate(61.05,559.9) scale(0.9,1)" font-size="8.1" text-anchor="middle" fill="#000" stroke="#000" stroke-width="0.15">0-1</text><line x1="86.55" y1="495.7" x2="86.55" y2="526.2" stroke="#3a3a3a" stroke-width="1.3"/><line x1="82.05" y1="495.7" x2="91.05" y2="495.7" stroke="#3a3a3a" stroke-width="1.4"/><line x1="82.05" y1="526.2" x2="91.05" y2="526.2" stroke="#3a3a3a" stroke-width="1.4"/><rect x="80.2" y="510.6" width="12.7" height="10.1" fill="#a0002a"/><line x1="80.2" y1="517" x2="92.9" y2="517" stroke="#1a0008" stroke-width="1.7"/><circle cx="86.55" cy="474.5" r="1.6" fill="#a0002a"/><circle cx="86.55" cy="486" r="1.6" fill="#a0002a"/><circle cx="86.55" cy="489.8" r="1.6" fill="#a0002a"/><circle cx="86.55" cy="492.7" r="1.6" fill="#a0002a"/><circle cx="86.55" cy="495.2" r="1.6" fill="#a0002a"/><text transform="translate(86.55,559.9) scale(0.9,1)" font-size="8.1" text-anchor="middle" fill="#000" stroke="#000" stroke-width="0.15">1-1.5</text><line x1="112.05" y1="493.5" x2="112.05" y2="529.3" stroke="#3a3a3a" stroke-width="1.3"/><line x1="107.55" y1="493.5" x2="116.55" y2="493.5" stroke="#3a3a3a" stroke-width="1.4"/><line x1="107.55" y1="529.3" x2="116.55" y2="529.3" stroke="#3a3a3a" stroke-width="1.4"/><rect x="105.7" y="507" width="12.7" height="12" fill="#a0002a"/><line x1="105.7" y1="514.5" x2="118.4" y2="514.5" stroke="#1a0008" stroke-width="1.7"/><circle cx="112.05" cy="406.1" r="1.6" fill="#a0002a"/><circle cx="112.05" cy="419.9" r="1.6" fill="#a0002a"/><circle cx="112.05" cy="471.9" r="1.6" fill="#a0002a"/><circle cx="112.05" cy="479.3" r="1.6" fill="#a0002a"/><circle cx="112.05" cy="483.8" r="1.6" fill="#a0002a"/><circle cx="112.05" cy="486" r="1.6" fill="#a0002a"/><text transform="translate(112.05,559.9) scale(0.9,1)" font-size="8.1" text-anchor="middle" fill="#000" stroke="#000" stroke-width="0.15">1.5-2</text><line x1="137.55" y1="484.6" x2="137.55" y2="531.6" stroke="#3a3a3a" stroke-width="1.3"/><line x1="133.05" y1="484.6" x2="142.05" y2="484.6" stroke="#3a3a3a" stroke-width="1.4"/><line x1="133.05" y1="531.6" x2="142.05" y2="531.6" stroke="#3a3a3a" stroke-width="1.4"/><rect x="131.2" y="504.8" width="12.7" height="13.4" fill="#a0002a"/><line x1="131.2" y1="513.3" x2="143.9" y2="513.3" stroke="#1a0008" stroke-width="1.7"/><circle cx="137.55" cy="406.1" r="1.6" fill="#a0002a"/><circle cx="137.55" cy="444.5" r="1.6" fill="#a0002a"/><circle cx="137.55" cy="449.2" r="1.6" fill="#a0002a"/><circle cx="137.55" cy="450.7" r="1.6" fill="#a0002a"/><circle cx="137.55" cy="457.3" r="1.6" fill="#a0002a"/><circle cx="137.55" cy="463.6" r="1.6" fill="#a0002a"/><circle cx="137.55" cy="474.5" r="1.6" fill="#a0002a"/><circle cx="137.55" cy="476.7" r="1.6" fill="#a0002a"/><circle cx="137.55" cy="479.3" r="1.6" fill="#a0002a"/><text transform="translate(137.55,559.9) scale(0.9,1)" font-size="8.1" text-anchor="middle" fill="#000" stroke="#000" stroke-width="0.15">2-2.5</text><line x1="163.05" y1="488.5" x2="163.05" y2="527.4" stroke="#3a3a3a" stroke-width="1.3"/><line x1="158.55" y1="488.5" x2="167.55" y2="488.5" stroke="#3a3a3a" stroke-width="1.4"/><line x1="158.55" y1="527.4" x2="167.55" y2="527.4" stroke="#3a3a3a" stroke-width="1.4"/><rect x="156.7" y="506.1" width="12.7" height="12.1" fill="#a0002a"/><line x1="156.7" y1="513.3" x2="169.4" y2="513.3" stroke="#1a0008" stroke-width="1.7"/><circle cx="163.05" cy="406.1" r="1.6" fill="#a0002a"/><circle cx="163.05" cy="454.6" r="1.6" fill="#a0002a"/><circle cx="163.05" cy="457.5" r="1.6" fill="#a0002a"/><circle cx="163.05" cy="475.9" r="1.6" fill="#a0002a"/><circle cx="163.05" cy="483.6" r="1.6" fill="#a0002a"/><circle cx="163.05" cy="485.6" r="1.6" fill="#a0002a"/><text transform="translate(163.05,559.9) scale(0.9,1)" font-size="8.1" text-anchor="middle" fill="#000" stroke="#000" stroke-width="0.15">2.5-3</text><line x1="188.55" y1="488.5" x2="188.55" y2="528.4" stroke="#3a3a3a" stroke-width="1.3"/><line x1="184.05" y1="488.5" x2="193.05" y2="488.5" stroke="#3a3a3a" stroke-width="1.4"/><line x1="184.05" y1="528.4" x2="193.05" y2="528.4" stroke="#3a3a3a" stroke-width="1.4"/><rect x="182.2" y="506.1" width="12.7" height="12.1" fill="#a0002a"/><line x1="182.2" y1="512.5" x2="194.9" y2="512.5" stroke="#1a0008" stroke-width="1.7"/><circle cx="188.55" cy="456.3" r="1.6" fill="#a0002a"/><circle cx="188.55" cy="482.3" r="1.6" fill="#a0002a"/><circle cx="188.55" cy="484.1" r="1.6" fill="#a0002a"/><circle cx="188.55" cy="485.9" r="1.6" fill="#a0002a"/><text transform="translate(188.55,559.9) scale(0.9,1)" font-size="8.1" text-anchor="middle" fill="#000" stroke="#000" stroke-width="0.15">3-3.5</text><line x1="214.05" y1="493.2" x2="214.05" y2="525.6" stroke="#3a3a3a" stroke-width="1.3"/><line x1="209.55" y1="493.2" x2="218.55" y2="493.2" stroke="#3a3a3a" stroke-width="1.4"/><line x1="209.55" y1="525.6" x2="218.55" y2="525.6" stroke="#3a3a3a" stroke-width="1.4"/><rect x="207.7" y="506" width="12.7" height="10.6" fill="#a0002a"/><line x1="207.7" y1="512.1" x2="220.4" y2="512.1" stroke="#1a0008" stroke-width="1.7"/><circle cx="214.05" cy="406" r="1.6" fill="#a0002a"/><circle cx="214.05" cy="434.8" r="1.6" fill="#a0002a"/><circle cx="214.05" cy="468.1" r="1.6" fill="#a0002a"/><circle cx="214.05" cy="482.6" r="1.6" fill="#a0002a"/><circle cx="214.05" cy="485.1" r="1.6" fill="#a0002a"/><circle cx="214.05" cy="542" r="1.6" fill="#a0002a"/><text transform="translate(214.05,559.9) scale(0.9,1)" font-size="8.1" text-anchor="middle" fill="#000" stroke="#000" stroke-width="0.15">3.5-4</text><line x1="239.55" y1="481.5" x2="239.55" y2="528.8" stroke="#3a3a3a" stroke-width="1.3"/><line x1="235.05" y1="481.5" x2="244.05" y2="481.5" stroke="#3a3a3a" stroke-width="1.4"/><line x1="235.05" y1="528.8" x2="244.05" y2="528.8" stroke="#3a3a3a" stroke-width="1.4"/><rect x="233.2" y="501.5" width="12.7" height="13.9" fill="#a0002a"/><line x1="233.2" y1="508.9" x2="245.9" y2="508.9" stroke="#1a0008" stroke-width="1.7"/><circle cx="239.55" cy="406" r="1.6" fill="#a0002a"/><circle cx="239.55" cy="441.3" r="1.6" fill="#a0002a"/><circle cx="239.55" cy="448.3" r="1.6" fill="#a0002a"/><circle cx="239.55" cy="452.4" r="1.6" fill="#a0002a"/><circle cx="239.55" cy="455.4" r="1.6" fill="#a0002a"/><circle cx="239.55" cy="460.2" r="1.6" fill="#a0002a"/><circle cx="239.55" cy="466.7" r="1.6" fill="#a0002a"/><circle cx="239.55" cy="470.9" r="1.6" fill="#a0002a"/><circle cx="239.55" cy="476" r="1.6" fill="#a0002a"/><circle cx="239.55" cy="542" r="1.6" fill="#a0002a"/><text transform="translate(239.55,559.9) scale(0.9,1)" font-size="8.1" text-anchor="middle" fill="#000" stroke="#000" stroke-width="0.15">4+</text><path d="M45.9 399.5 V549.3 H253.2" fill="none" stroke="#1a1a1a" stroke-width="1.6" stroke-linejoin="round"/><text transform="translate(10.6,393.6) scale(0.78,1)" font-size="11.2" fill="#000" stroke="#000" stroke-width="0.15">E</text><text x="149.2" y="394.4" font-size="9.5" text-anchor="middle" fill="#000" stroke="#000" stroke-width="0.15">Activated partial thromboplastin time</text><text transform="translate(19.6,474.3) rotate(-90) scale(1.0,1)" font-size="9.0" text-anchor="middle" fill="#000" stroke="#000" stroke-width="0.15">Seconds</text><text transform="translate(12.2,559.9) scale(0.92,1)" font-size="8.1" fill="#000" stroke="#000" stroke-width="0.15">Blood loss</text></g>
<g><line x1="301.7" y1="406" x2="305.3" y2="406" stroke="#1a1a1a" stroke-width="1.1"/><text transform="translate(299,408.9) scale(0.91,1)" font-size="8.1" text-anchor="end" fill="#000" stroke="#000" stroke-width="0.15">40</text><line x1="301.7" y1="423.14" x2="305.3" y2="423.14" stroke="#1a1a1a" stroke-width="1.1"/><text transform="translate(299,426.04) scale(0.91,1)" font-size="8.1" text-anchor="end" fill="#000" stroke="#000" stroke-width="0.15">35</text><line x1="301.7" y1="440.28" x2="305.3" y2="440.28" stroke="#1a1a1a" stroke-width="1.1"/><text transform="translate(299,443.18) scale(0.91,1)" font-size="8.1" text-anchor="end" fill="#000" stroke="#000" stroke-width="0.15">30</text><line x1="301.7" y1="457.42" x2="305.3" y2="457.42" stroke="#1a1a1a" stroke-width="1.1"/><text transform="translate(299,460.32) scale(0.91,1)" font-size="8.1" text-anchor="end" fill="#000" stroke="#000" stroke-width="0.15">25</text><line x1="301.7" y1="474.56" x2="305.3" y2="474.56" stroke="#1a1a1a" stroke-width="1.1"/><text transform="translate(299,477.46) scale(0.91,1)" font-size="8.1" text-anchor="end" fill="#000" stroke="#000" stroke-width="0.15">20</text><line x1="301.7" y1="491.7" x2="305.3" y2="491.7" stroke="#1a1a1a" stroke-width="1.1"/><text transform="translate(299,494.6) scale(0.91,1)" font-size="8.1" text-anchor="end" fill="#000" stroke="#000" stroke-width="0.15">15</text><line x1="301.7" y1="508.84" x2="305.3" y2="508.84" stroke="#1a1a1a" stroke-width="1.1"/><text transform="translate(299,511.74) scale(0.91,1)" font-size="8.1" text-anchor="end" fill="#000" stroke="#000" stroke-width="0.15">10</text><line x1="301.7" y1="525.98" x2="305.3" y2="525.98" stroke="#1a1a1a" stroke-width="1.1"/><text transform="translate(299,528.88) scale(0.91,1)" font-size="8.1" text-anchor="end" fill="#000" stroke="#000" stroke-width="0.15">5</text><line x1="301.7" y1="543.12" x2="305.3" y2="543.12" stroke="#1a1a1a" stroke-width="1.1"/><text transform="translate(299,546.02) scale(0.91,1)" font-size="8.1" text-anchor="end" fill="#000" stroke="#000" stroke-width="0.15">0</text><line x1="320.7" y1="462.4" x2="320.7" y2="511.5" stroke="#3a3a3a" stroke-width="1.3"/><line x1="316.2" y1="462.4" x2="325.2" y2="462.4" stroke="#3a3a3a" stroke-width="1.4"/><line x1="316.2" y1="511.5" x2="325.2" y2="511.5" stroke="#3a3a3a" stroke-width="1.4"/><rect x="314.35" y="488.5" width="12.7" height="17.9" fill="#a0002a"/><line x1="314.35" y1="499.5" x2="327.05" y2="499.5" stroke="#1a0008" stroke-width="1.7"/><circle cx="320.7" cy="457.3" r="1.6" fill="#a0002a"/><text transform="translate(320.7,559.9) scale(0.9,1)" font-size="8.1" text-anchor="middle" fill="#000" stroke="#000" stroke-width="0.15">0-1</text><line x1="346.65" y1="472.4" x2="346.65" y2="510" stroke="#3a3a3a" stroke-width="1.3"/><line x1="342.15" y1="472.4" x2="351.15" y2="472.4" stroke="#3a3a3a" stroke-width="1.4"/><line x1="342.15" y1="510" x2="351.15" y2="510" stroke="#3a3a3a" stroke-width="1.4"/><rect x="340.3" y="490" width="12.7" height="14.3" fill="#a0002a"/><line x1="340.3" y1="496.8" x2="353" y2="496.8" stroke="#1a0008" stroke-width="1.7"/><text transform="translate(346.65,559.9) scale(0.9,1)" font-size="8.1" text-anchor="middle" fill="#000" stroke="#000" stroke-width="0.15">1-1.5</text><line x1="372.6" y1="474.5" x2="372.6" y2="510.1" stroke="#3a3a3a" stroke-width="1.3"/><line x1="368.1" y1="474.5" x2="377.1" y2="474.5" stroke="#3a3a3a" stroke-width="1.4"/><line x1="368.1" y1="510.1" x2="377.1" y2="510.1" stroke="#3a3a3a" stroke-width="1.4"/><rect x="366.25" y="490.4" width="12.7" height="11.8" fill="#a0002a"/><line x1="366.25" y1="496.4" x2="378.95" y2="496.4" stroke="#1a0008" stroke-width="1.7"/><circle cx="372.6" cy="406" r="1.6" fill="#a0002a"/><circle cx="372.6" cy="438" r="1.6" fill="#a0002a"/><circle cx="372.6" cy="457.3" r="1.6" fill="#a0002a"/><circle cx="372.6" cy="469.5" r="1.6" fill="#a0002a"/><circle cx="372.6" cy="470.4" r="1.6" fill="#a0002a"/><text transform="translate(372.6,559.9) scale(0.9,1)" font-size="8.1" text-anchor="middle" fill="#000" stroke="#000" stroke-width="0.15">1.5-2</text><line x1="398.55" y1="467.8" x2="398.55" y2="511.3" stroke="#3a3a3a" stroke-width="1.3"/><line x1="394.05" y1="467.8" x2="403.05" y2="467.8" stroke="#3a3a3a" stroke-width="1.4"/><line x1="394.05" y1="511.3" x2="403.05" y2="511.3" stroke="#3a3a3a" stroke-width="1.4"/><rect x="392.2" y="485" width="12.7" height="17.2" fill="#a0002a"/><line x1="392.2" y1="493.2" x2="404.9" y2="493.2" stroke="#1a0008" stroke-width="1.7"/><circle cx="398.55" cy="405.8" r="1.6" fill="#a0002a"/><circle cx="398.55" cy="426.2" r="1.6" fill="#a0002a"/><circle cx="398.55" cy="433.7" r="1.6" fill="#a0002a"/><circle cx="398.55" cy="440.6" r="1.6" fill="#a0002a"/><circle cx="398.55" cy="443.2" r="1.6" fill="#a0002a"/><circle cx="398.55" cy="458.2" r="1.6" fill="#a0002a"/><text transform="translate(398.55,559.9) scale(0.9,1)" font-size="8.1" text-anchor="middle" fill="#000" stroke="#000" stroke-width="0.15">2-2.5</text><line x1="424.5" y1="467.8" x2="424.5" y2="514.2" stroke="#3a3a3a" stroke-width="1.3"/><line x1="420" y1="467.8" x2="429" y2="467.8" stroke="#3a3a3a" stroke-width="1.4"/><line x1="420" y1="514.2" x2="429" y2="514.2" stroke="#3a3a3a" stroke-width="1.4"/><rect x="418.15" y="488.2" width="12.7" height="14" fill="#a0002a"/><line x1="418.15" y1="494.7" x2="430.85" y2="494.7" stroke="#1a0008" stroke-width="1.7"/><circle cx="424.5" cy="436.8" r="1.6" fill="#a0002a"/><circle cx="424.5" cy="445.5" r="1.6" fill="#a0002a"/><text transform="translate(424.5,559.9) scale(0.9,1)" font-size="8.1" text-anchor="middle" fill="#000" stroke="#000" stroke-width="0.15">2.5-3</text><line x1="450.45" y1="477.8" x2="450.45" y2="508.4" stroke="#3a3a3a" stroke-width="1.3"/><line x1="445.95" y1="477.8" x2="454.95" y2="477.8" stroke="#3a3a3a" stroke-width="1.4"/><line x1="445.95" y1="508.4" x2="454.95" y2="508.4" stroke="#3a3a3a" stroke-width="1.4"/><rect x="444.1" y="487.2" width="12.7" height="14" fill="#a0002a"/><line x1="444.1" y1="494.4" x2="456.8" y2="494.4" stroke="#1a0008" stroke-width="1.7"/><circle cx="450.45" cy="466" r="1.6" fill="#a0002a"/><text transform="translate(450.45,559.9) scale(0.9,1)" font-size="8.1" text-anchor="middle" fill="#000" stroke="#000" stroke-width="0.15">3-3.5</text><line x1="476.4" y1="471.2" x2="476.4" y2="505.8" stroke="#3a3a3a" stroke-width="1.3"/><line x1="471.9" y1="471.2" x2="480.9" y2="471.2" stroke="#3a3a3a" stroke-width="1.4"/><line x1="471.9" y1="505.8" x2="480.9" y2="505.8" stroke="#3a3a3a" stroke-width="1.4"/><rect x="470.05" y="487" width="12.7" height="13.8" fill="#a0002a"/><line x1="470.05" y1="494.1" x2="482.75" y2="494.1" stroke="#1a0008" stroke-width="1.7"/><circle cx="476.4" cy="406.3" r="1.6" fill="#a0002a"/><circle cx="476.4" cy="446.9" r="1.6" fill="#a0002a"/><text transform="translate(476.4,559.9) scale(0.9,1)" font-size="8.1" text-anchor="middle" fill="#000" stroke="#000" stroke-width="0.15">3.5-4</text><line x1="502.35" y1="455.7" x2="502.35" y2="519.4" stroke="#3a3a3a" stroke-width="1.3"/><line x1="497.85" y1="455.7" x2="506.85" y2="455.7" stroke="#3a3a3a" stroke-width="1.4"/><line x1="497.85" y1="519.4" x2="506.85" y2="519.4" stroke="#3a3a3a" stroke-width="1.4"/><rect x="496" y="483.1" width="12.7" height="18.9" fill="#a0002a"/><line x1="496" y1="492.2" x2="508.7" y2="492.2" stroke="#1a0008" stroke-width="1.7"/><circle cx="502.35" cy="406.3" r="1.6" fill="#a0002a"/><circle cx="502.35" cy="408.2" r="1.6" fill="#a0002a"/><circle cx="502.35" cy="409.6" r="1.6" fill="#a0002a"/><circle cx="502.35" cy="430.1" r="1.6" fill="#a0002a"/><circle cx="502.35" cy="453" r="1.6" fill="#a0002a"/><text transform="translate(502.35,559.9) scale(0.9,1)" font-size="8.1" text-anchor="middle" fill="#000" stroke="#000" stroke-width="0.15">4+</text><path d="M305.3 399.5 V549.3 H513" fill="none" stroke="#1a1a1a" stroke-width="1.6" stroke-linejoin="round"/><text transform="translate(263.8,393.6) scale(0.8,1)" font-size="11.2" fill="#000" stroke="#000" stroke-width="0.15">F</text><text x="409" y="394.9" font-size="9.5" text-anchor="middle" fill="#000" stroke="#000" stroke-width="0.15">Prothrombin time</text><text transform="translate(284.8,474.1) rotate(-90) scale(1.0,1)" font-size="9.0" text-anchor="middle" fill="#000" stroke="#000" stroke-width="0.15">Seconds</text><text transform="translate(277,559.9) scale(0.92,1)" font-size="8.1" fill="#000" stroke="#000" stroke-width="0.15">Blood loss</text></g>
</svg>
<div class="b" style="left:0;top:0;width:520px;height:1px;background:#000"></div>
<div class="b" style="left:0;top:1px;width:520px;height:1px;background:#e2e2e2"></div>
<div class="b" style="left:0;top:0;width:1px;height:567px;background:#3c3c3c"></div>
<div class="b" style="left:1px;top:1px;width:1px;height:565px;background:#999"></div>
<div class="b" style="left:519px;top:0;width:1px;height:567px;background:#111"></div>
<div class="b" style="left:518px;top:1px;width:1px;height:565px;background:#999"></div>
<div class="b" style="left:0;top:566px;width:520px;height:1px;background:#3c3c3c"></div>
<div class="b" style="left:1px;top:565px;width:518px;height:1px;background:#999"></div>
</body></html>
